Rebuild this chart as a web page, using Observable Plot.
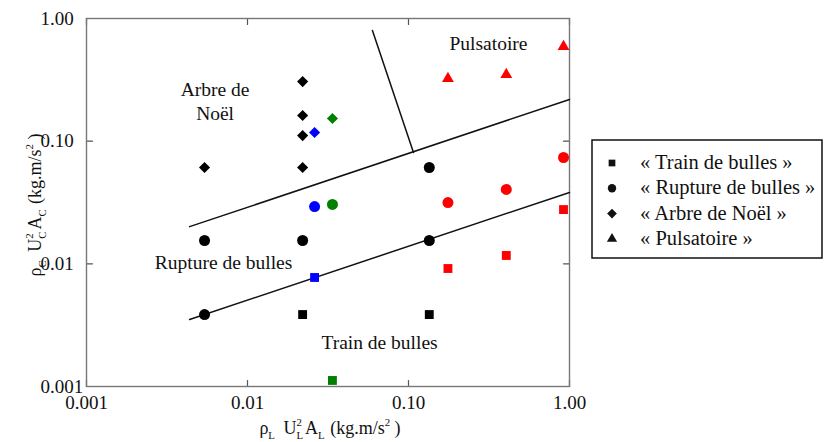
<!DOCTYPE html>
<html><head><meta charset="utf-8">
<script src="https://cdn.jsdelivr.net/npm/d3@7"></script>
<script src="https://cdn.jsdelivr.net/npm/@observablehq/plot@0.6"></script>
<style>
body{margin:0;background:#fff}
#chart{position:relative;width:825px;height:442px}
</style>
</head><body><div id="chart"></div>
<script>
// ---- Data ----
const xTicks = [0.001, 0.01, 0.1, 1];
const xTickLabels = ["0.001", "0.01", "0.10", "1.00"];
const yTicks = [0.001, 0.01, 0.1, 1];
const yTickLabels = ["0.001", "0.01", "0.10", "1.00"];

// « Train de bulles » (squares)
const trainX = [0.0220, 0.1346, 0.0261, 0.0337, 0.1758, 0.405, 0.918];
const trainY = [0.00386, 0.00386, 0.00774, 0.00112, 0.00916, 0.0117, 0.0277];
const trainColor = ["black", "black", "blue", "green", "red", "red", "red"];

// « Rupture de bulles » (circles)
const ruptureX = [0.00541, 0.0220, 0.00541, 0.1346, 0.1346, 0.0261, 0.0337, 0.1758, 0.405, 0.918];
const ruptureY = [0.0155, 0.0155, 0.00386, 0.0610, 0.0155, 0.0293, 0.0305, 0.0316, 0.0404, 0.0736];
const ruptureColor = ["black", "black", "black", "black", "black", "blue", "green", "red", "red", "red"];

// « Arbre de Noël » (diamonds)
const arbreX = [0.00541, 0.0220, 0.0220, 0.0220, 0.0220, 0.0261, 0.0337];
const arbreY = [0.0610, 0.306, 0.162, 0.111, 0.0610, 0.1177, 0.153];
const arbreColor = ["black", "black", "black", "black", "black", "blue", "green"];

// « Pulsatoire » (triangles)
const pulsX = [0.1758, 0.405, 0.918];
const pulsY = [0.324, 0.349, 0.591];
const pulsColor = ["red", "red", "red"];

// Regime boundaries
const upperX = [0.00437, 1];
const upperY = [0.0201, 0.2187];
const lowerX = [0.00437, 1];
const lowerY = [0.00352, 0.0382];
const steepX = [0.0597, 0.1074];
const steepY = [0.798, 0.0808];

// Region annotations (data coordinates)
const regionText = ["Pulsatoire", "Arbre de\nNoël", "Rupture de bulles", "Train de bulles"];
const regionX = [0.314, 0.00629, 0.00710, 0.0661];
const regionY = [0.642, 0.2147, 0.01052, 0.002344];

const legendLabels = ["« Train de bulles »", "« Rupture de bulles »", "« Arbre de Noël »", "« Pulsatoire »"];

// ---- Build tables ----
const zip = (xs, ys, cs) => xs.map((x, i) => ({x, y: ys[i], c: cs ? cs[i] : null}));
const train = zip(trainX, trainY, trainColor);
const rupture = zip(ruptureX, ruptureY, ruptureColor);
const arbre = zip(arbreX, arbreY, arbreColor);
const puls = zip(pulsX, pulsY, pulsColor);
const upper = zip(upperX, upperY);
const lower = zip(lowerX, lowerY);
const steep = zip(steepX, steepY);
const regions = regionText.map((t, i) => ({t, x: regionX[i], y: regionY[i]}));

const xLab = new Map(xTicks.map((t, i) => [t, xTickLabels[i]]));
const yLab = new Map(yTicks.map((t, i) => [t, yTickLabels[i]]));

const FONT = "Liberation Serif, Times New Roman, serif";
const tickColor = "#555";
const tickShape = {draw(context, l) { context.moveTo(0, 0); context.lineTo(0, -l); }};
const tickOpts = {length: 6, anchor: "start", shape: tickShape, stroke: tickColor, strokeWidth: 1.2};

const chart = Plot.plot({
  width: 825, height: 442,
  marginLeft: 86, marginRight: 256, marginTop: 18, marginBottom: 56,
  x: {type: "log", domain: [0.001, 1]},
  y: {type: "log", domain: [0.001, 1]},
  style: {fontFamily: FONT, fontSize: "19px", background: "white", color: "#111"},
  marks: [
    // inward tick marks
    Plot.vector(xTicks, {x: d => d, frameAnchor: "bottom", rotate: 0, ...tickOpts}),
    Plot.vector(xTicks, {x: d => d, frameAnchor: "top", rotate: 180, ...tickOpts}),
    Plot.vector(yTicks, {y: d => d, frameAnchor: "left", rotate: 90, ...tickOpts}),
    Plot.vector(yTicks, {y: d => d, frameAnchor: "right", rotate: -90, ...tickOpts}),
    // tick labels
    Plot.axisX(xTicks, {anchor: "bottom", tickSize: 0, tickPadding: 9, tickFormat: d => xLab.get(d), label: null, fontSize: 19, fill: "#111"}),
    Plot.axisY(yTicks, {anchor: "left", tickSize: 0, tickPadding: 46, textAnchor: "start", tickFormat: d => yLab.get(d), label: null, fontSize: 19, fill: "#111"}),
    Plot.frame({stroke: "#777", strokeWidth: 1.4}),
    // boundaries
    Plot.line(upper, {x: "x", y: "y", stroke: "#111", strokeWidth: 1.5}),
    Plot.line(lower, {x: "x", y: "y", stroke: "#111", strokeWidth: 1.5}),
    Plot.line(steep, {x: "x", y: "y", stroke: "#111", strokeWidth: 1.5}),
    // region labels
    Plot.text(regions, {x: "x", y: "y", text: "t", fontSize: 19.5, fill: "#111", lineAnchor: "middle", lineHeight: 1.2}),
    // points
    Plot.dot(train, {x: "x", y: "y", fill: "c", symbol: "square", r: 5}),
    Plot.dot(rupture, {x: "x", y: "y", fill: "c", symbol: "circle", r: 5.5}),
    Plot.dot(arbre, {x: "x", y: "y", fill: "c", symbol: "diamond2", r: 5}),
    Plot.dot(puls, {x: "x", y: "y", fill: "c", symbol: "triangle", r: 4.4})
  ]
});

const svg = d3.select(chart);

function richText(sel, parts, size) {
  let cur = 0;
  parts.forEach(p => {
    const shift = p.sub ? 0.28 * size : p.sup ? -0.42 * size : 0;
    const ts = sel.append("tspan").text(p.t)
      .attr("dy", shift - cur)
      .attr("font-size", (p.sub || p.sup) ? size * 0.6 : size);
    if (p.dx) ts.attr("dx", p.dx);
    cur = shift;
  });
}
function labelParts(s, size) {
  const w2 = size * 0.6 * 0.5;
  return [
    {t: "ρ"}, {t: s, sub: true}, {t: " U", dx: 4}, {t: "2", sup: true}, {t: s, sub: true, dx: -w2},
    {t: "A", dx: 2}, {t: s, sub: true}, {t: " (kg.m/s", dx: 1}, {t: "2", sup: true}, {t: " )"}
  ];
}
const LS = 18;
const xl = svg.append("text")
  .attr("x", 330).attr("y", 434)
  .attr("text-anchor", "middle").attr("font-family", FONT).attr("fill", "#111")
  .style("white-space", "pre");
richText(xl, labelParts("L", LS), LS);

const yl = svg.append("text")
  .attr("transform", "translate(41,205) rotate(-90)")
  .attr("text-anchor", "middle").attr("font-family", FONT).attr("fill", "#111")
  .style("white-space", "pre");
richText(yl, labelParts("C", LS), LS);

// legend
const lg = svg.append("g").attr("font-family", FONT).attr("text-anchor", "start");
lg.append("rect").attr("x", 592).attr("y", 140).attr("width", 230).attr("height", 118)
  .attr("fill", "white").attr("stroke", "#111").attr("stroke-width", 1.5);
const legSym = [d3.symbolSquare, d3.symbolCircle, d3.symbolDiamond2, d3.symbolTriangle];
const legSize = [45, 55, 60, 45];
legendLabels.forEach((lab, i) => {
  const cy = 163 + i * 25.3;
  lg.append("path").attr("d", d3.symbol(legSym[i], legSize[i])())
    .attr("transform", `translate(612,${cy})`).attr("fill", "#111");
  lg.append("text").attr("x", 640).attr("y", cy + 6).attr("font-size", 20.5)
    .attr("text-anchor", "start").attr("fill", "#111").text(lab);
});

document.getElementById("chart").append(chart);
</script>
</body></html>
